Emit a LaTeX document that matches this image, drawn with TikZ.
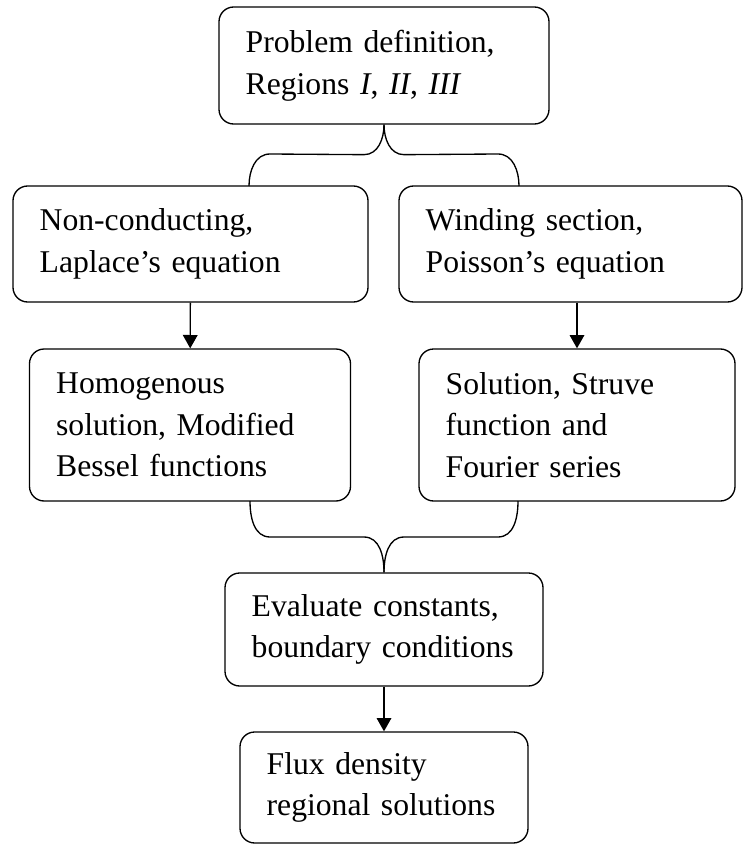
\documentclass[tikz,border=0pt]{standalone}
\usepackage{fontspec}
\setmainfont{Liberation Serif}
\usetikzlibrary{arrows.meta}

\begin{document}
\begin{tikzpicture}[
    x=0.75pt, y=-0.75pt,
    line width=1pt,
    box/.style   = {draw, rectangle, rounded corners=11pt, align=left,
                    inner xsep=20pt, inner ysep=0pt,
                    font=\fontsize{23.75pt}{31.3pt}\selectfont},
    edge/.style  = {draw, -{Triangle[length=10pt, width=11pt]}},
    brace/.style = {draw},
  ]
  \useasboundingbox (0,0) rectangle (744,845);

  \node[box, text width=207.5pt, minimum height=87.75pt] (problem) at (384,65.5)
       {Problem definition,\\ Regions \textit{I}, \textit{II}, \textit{III}};
  \node[box, text width=226.25pt, minimum height=87pt] (laplace) at (190.5,244)
       {Non-conducting,\\ Laplace’s equation};
  \node[box, text width=217.25pt, minimum height=87pt] (poisson) at (570.5,244)
       {Winding section,\\ Poisson’s equation};
  \node[box, text width=200.75pt, minimum height=114pt] (bessel) at (190,425)
       {Homogenous\\ solution, Modified\\ Bessel functions};
  \node[box, text width=197pt, minimum height=114pt] (struve) at (577,425)
       {Solution, Struve\\ function and\\ Fourier series};
  \node[box, text width=198.5pt, minimum height=84.75pt] (consts) at (384,629.5)
       {Evaluate constants,\\ boundary conditions};
  \node[box, text width=176pt, minimum height=83.25pt] (flux) at (384,787.5)
       {Flux density\\ regional solutions};

  % brace ends
  \coordinate (splitl) at (249,186);
  \coordinate (splitr) at (519,186);
  \coordinate (joinl) at (250,501);
  \coordinate (joinr) at (518,501);

  \draw[brace] (problem.south) to[out=-90,in=0] ++(-20,30) -- (270,154)
       to[out=180,in=90] (splitl);
  \draw[brace] (problem.south) to[out=-90,in=180] ++(20,30) -- (498,154)
       to[out=0,in=90] (splitr);

  \draw (laplace) edge[edge] (bessel);
  \draw (struve.north |- poisson.south) edge[edge] (struve.north);

  \draw[brace] (joinl) to[out=-90,in=180] ++(20,36) -- (364,537)
       to[out=0,in=90] (consts.north);
  \draw[brace] (joinr) to[out=-90,in=0] ++(-20,36) -- (404,537)
       to[out=180,in=90] (consts.north);

  \draw (consts) edge[edge] (flux);
\end{tikzpicture}
\end{document}
